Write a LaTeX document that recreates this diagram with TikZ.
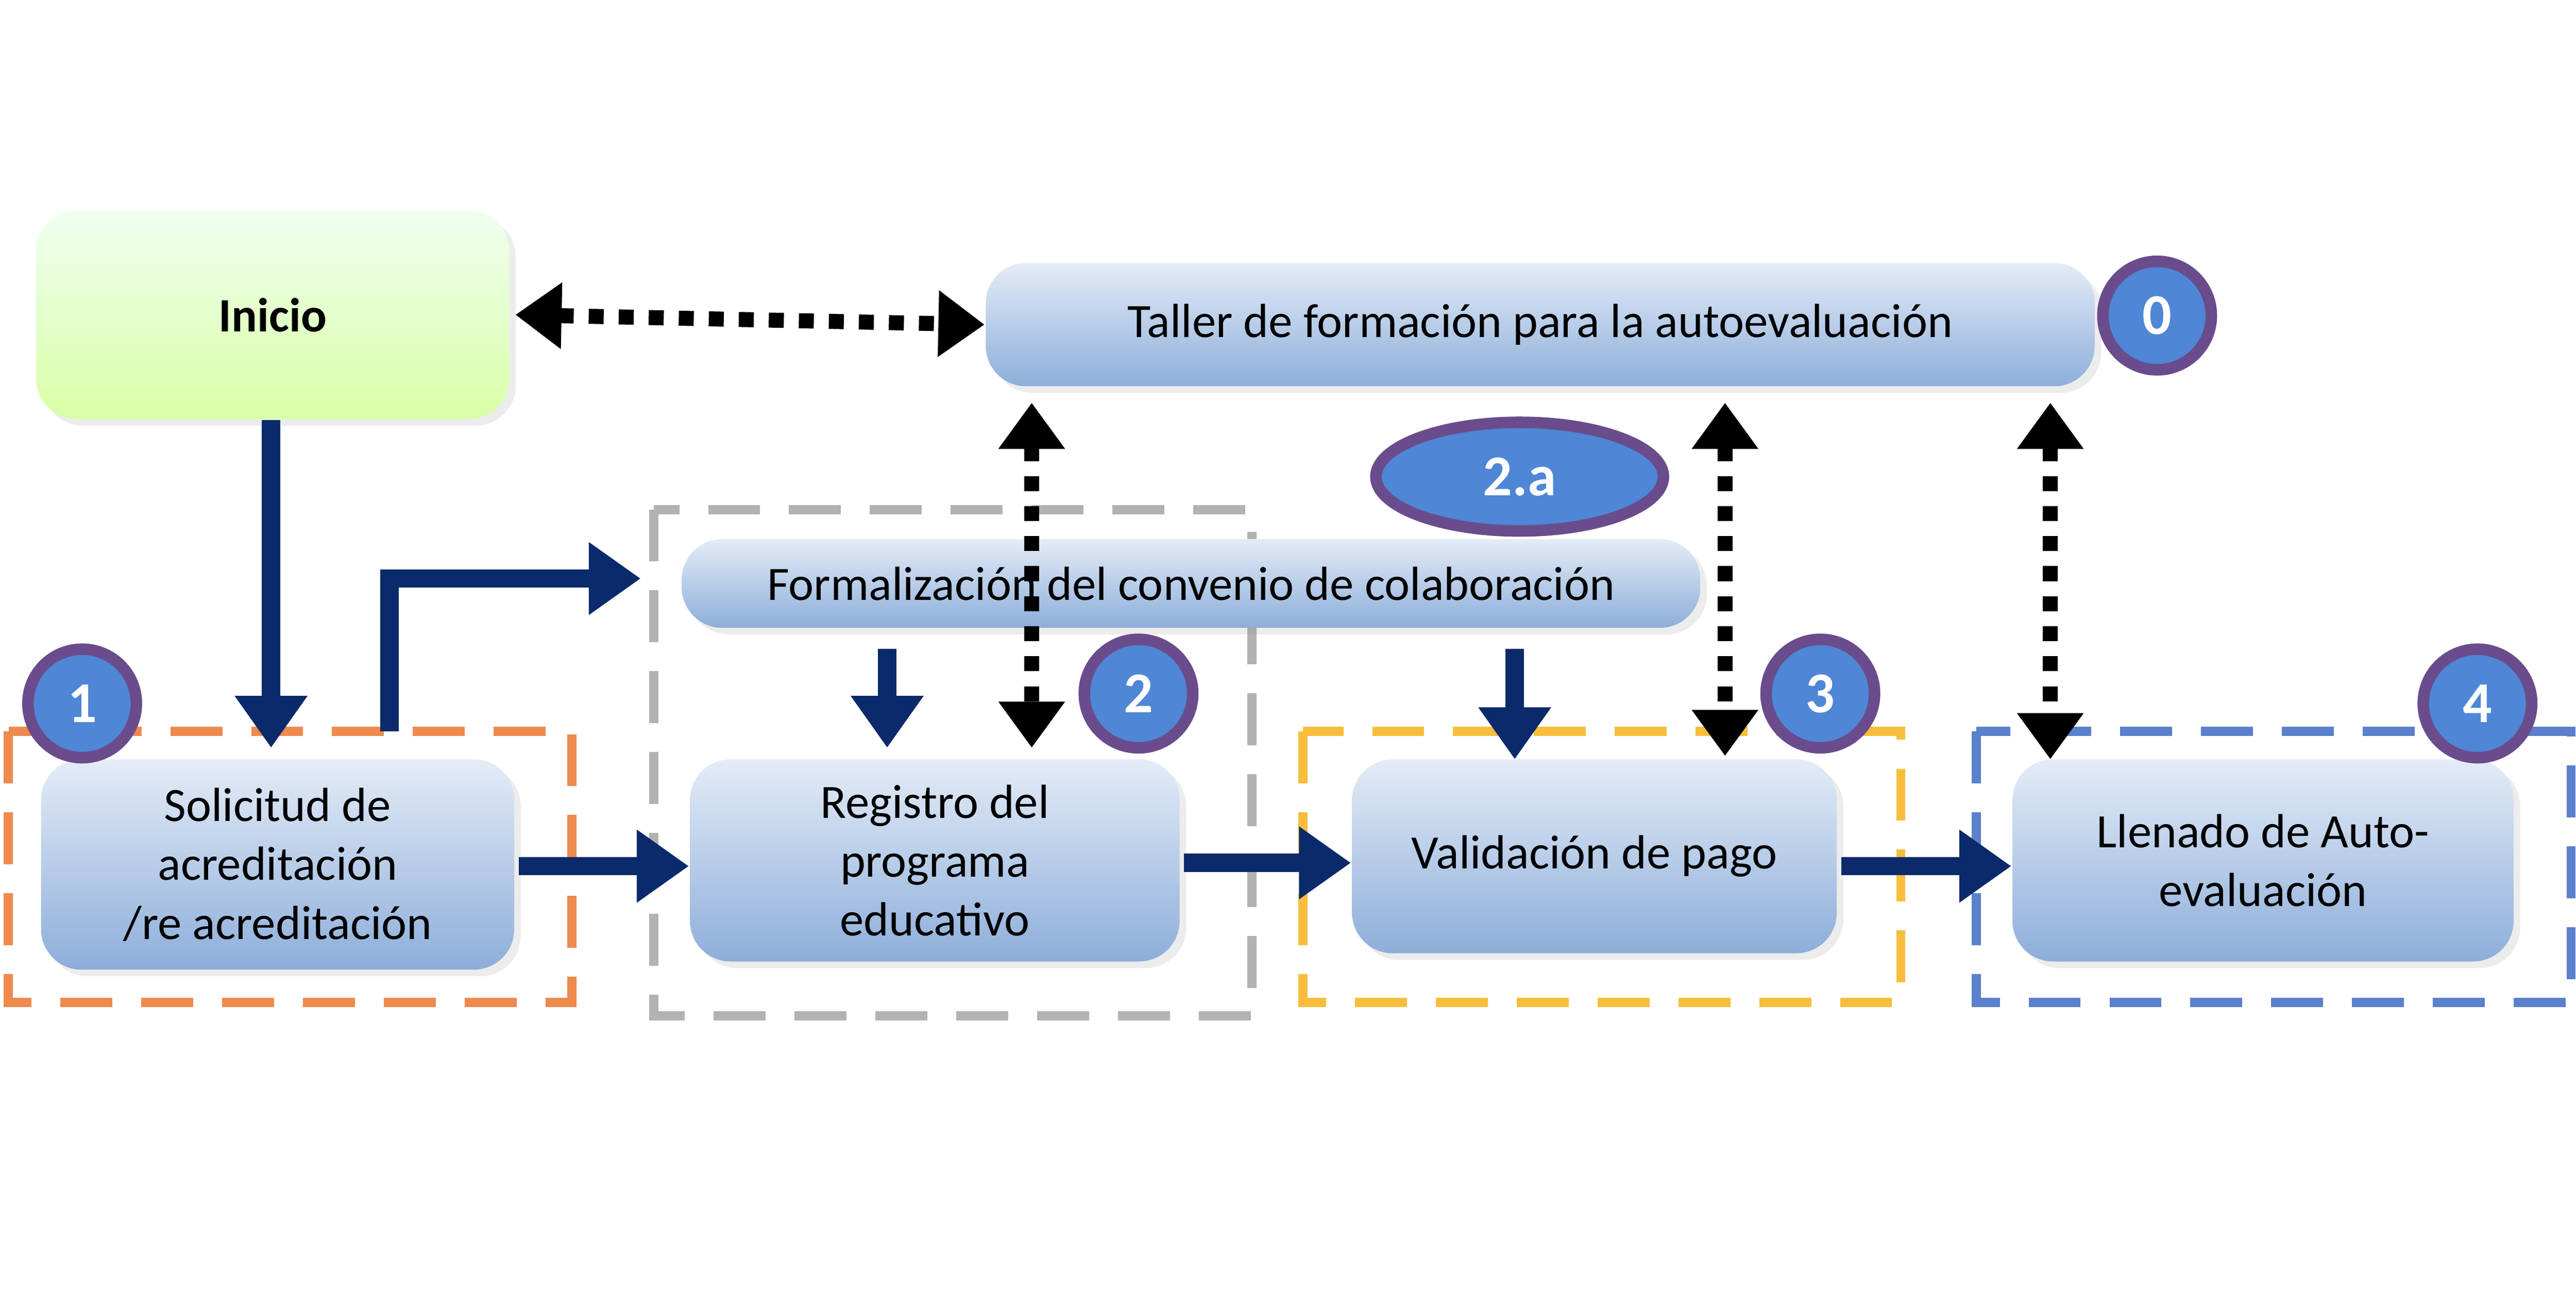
\documentclass[tikz,border=0pt]{standalone}
\usepackage{fontspec}
\setmainfont{Carlito}
\usetikzlibrary{arrows.meta,shapes.geometric,shadows}
\definecolor{navy}{HTML}{0A2A6B}
\definecolor{boxtop}{HTML}{E4ECF7}
\definecolor{boxbot}{HTML}{8DAEDA}
\definecolor{numblue}{HTML}{4F86D6}
\definecolor{numring}{HTML}{6A4C8C}
\definecolor{frameorange}{HTML}{EE8A4E}
\definecolor{frameyellow}{HTML}{F6BE3C}
\definecolor{frameblue}{HTML}{5B80CC}
\tikzset{
  procbox/.style={rounded corners=7pt, top color=boxtop, bottom color=boxbot,
    drop shadow={opacity=0.15, shadow xshift=0.04cm, shadow yshift=-0.04cm}, align=center, inner sep=0pt},
  startbox/.style={procbox, top color=green!6, bottom color=green!25!lime!35!white},
  numdot/.style={circle, fill=numblue, draw=numring, line width=2pt,
    minimum size=0.66cm, text=white, font=\bfseries},
  frame/.style={dashed, line width=1.6pt, dash pattern=on 9pt off 5pt},
  flow/.style={navy, line width=3.2pt, -{Triangle[length=9pt,width=12pt]}},
  link/.style={black, line width=2.6pt, dash pattern=on 2.6pt off 2.6pt,
    {Triangle[length=8pt,width=11pt]}-{Triangle[length=8pt,width=11pt]}}
}
\begin{document}
\begin{tikzpicture}[font=\fontsize{8.3}{10.2}\selectfont]
\useasboundingbox (0,0) rectangle (15.68,-7.84);
% frames
\draw[frame, frameorange] (0.05,-4.45) rectangle (3.48,-6.10);
\draw[frame, gray!60] (3.98,-3.10) rectangle (7.62,-6.18);
\draw[frame, frameyellow] (7.93,-4.45) rectangle (11.57,-6.10);
\draw[frame, frameblue] (12.03,-4.45) rectangle (15.65,-6.10);
% boxes
\node[startbox, minimum width=2.88cm, minimum height=1.27cm, font=\fontsize{8.3}{10.2}\selectfont\bfseries] (inicio) at (1.66,-1.915) {Inicio};
\node[procbox, minimum width=6.75cm, minimum height=0.75cm] (taller) at (9.375,-1.975) {Taller de formación para la autoevaluación};
\node[procbox, minimum width=6.2cm, minimum height=0.54cm] (formal) at (7.25,-3.55) {Formalización del convenio de colaboración};
\node[procbox, minimum width=2.88cm, minimum height=1.28cm] (solic) at (1.69,-5.26) {Solicitud de\\acreditación\\/re acreditación};
\node[procbox, minimum width=2.98cm, minimum height=1.23cm] (regis) at (5.69,-5.235) {Registro del\\programa\\educativo};
\node[procbox, minimum width=2.95cm, minimum height=1.18cm] (valid) at (9.705,-5.21) {Validación de pago};
\node[procbox, minimum width=3.05cm, minimum height=1.23cm] (llena) at (13.775,-5.235) {Llenado de Auto-\\evaluación};
% numbers
\node[numdot] (n0) at (13.13,-1.92) {0};
\node[numdot, ellipse, minimum width=1.75cm, minimum height=0.62cm] (n2a) at (9.25,-2.90) {2.a};
\node[numdot] (n1) at (0.50,-4.28) {1};
\node[numdot] (n2) at (6.93,-4.22) {2};
\node[numdot] (n3) at (11.08,-4.22) {3};
\node[numdot] (n4) at (15.08,-4.28) {4};
% flow arrows
\draw[flow] (inicio.south -| 1.65,0) -- (1.65,-4.55);
\draw[flow] (2.37,-4.45) |- (3.90,-3.52);
\draw[flow] (solic.east |- 0,-5.27) ++(0.02,0) -- (regis.west |- 0,-5.27);
\draw[flow] (regis.east |- 0,-5.25) ++(0.02,0) -- (valid.west |- 0,-5.25);
\draw[flow] (valid.east |- 0,-5.27) ++(0.02,0) -- (llena.west |- 0,-5.27);
\draw[flow] (formal.south -| 5.40,0) ++(0,-0.12) -- (5.40,-4.55);
\draw[flow] (formal.south -| 9.22,0) ++(0,-0.12) -- (9.22,-4.62);
% dotted links
\draw[link] (inicio.east) ++(0.03,0) -- (taller.west);
\draw[link] (6.28,-2.45) -- (6.28,-4.55);
\draw[link] (10.50,-2.45) -- (10.50,-4.60);
\draw[link] (12.48,-2.45) -- (12.48,-4.62);
\end{tikzpicture}
\end{document}
